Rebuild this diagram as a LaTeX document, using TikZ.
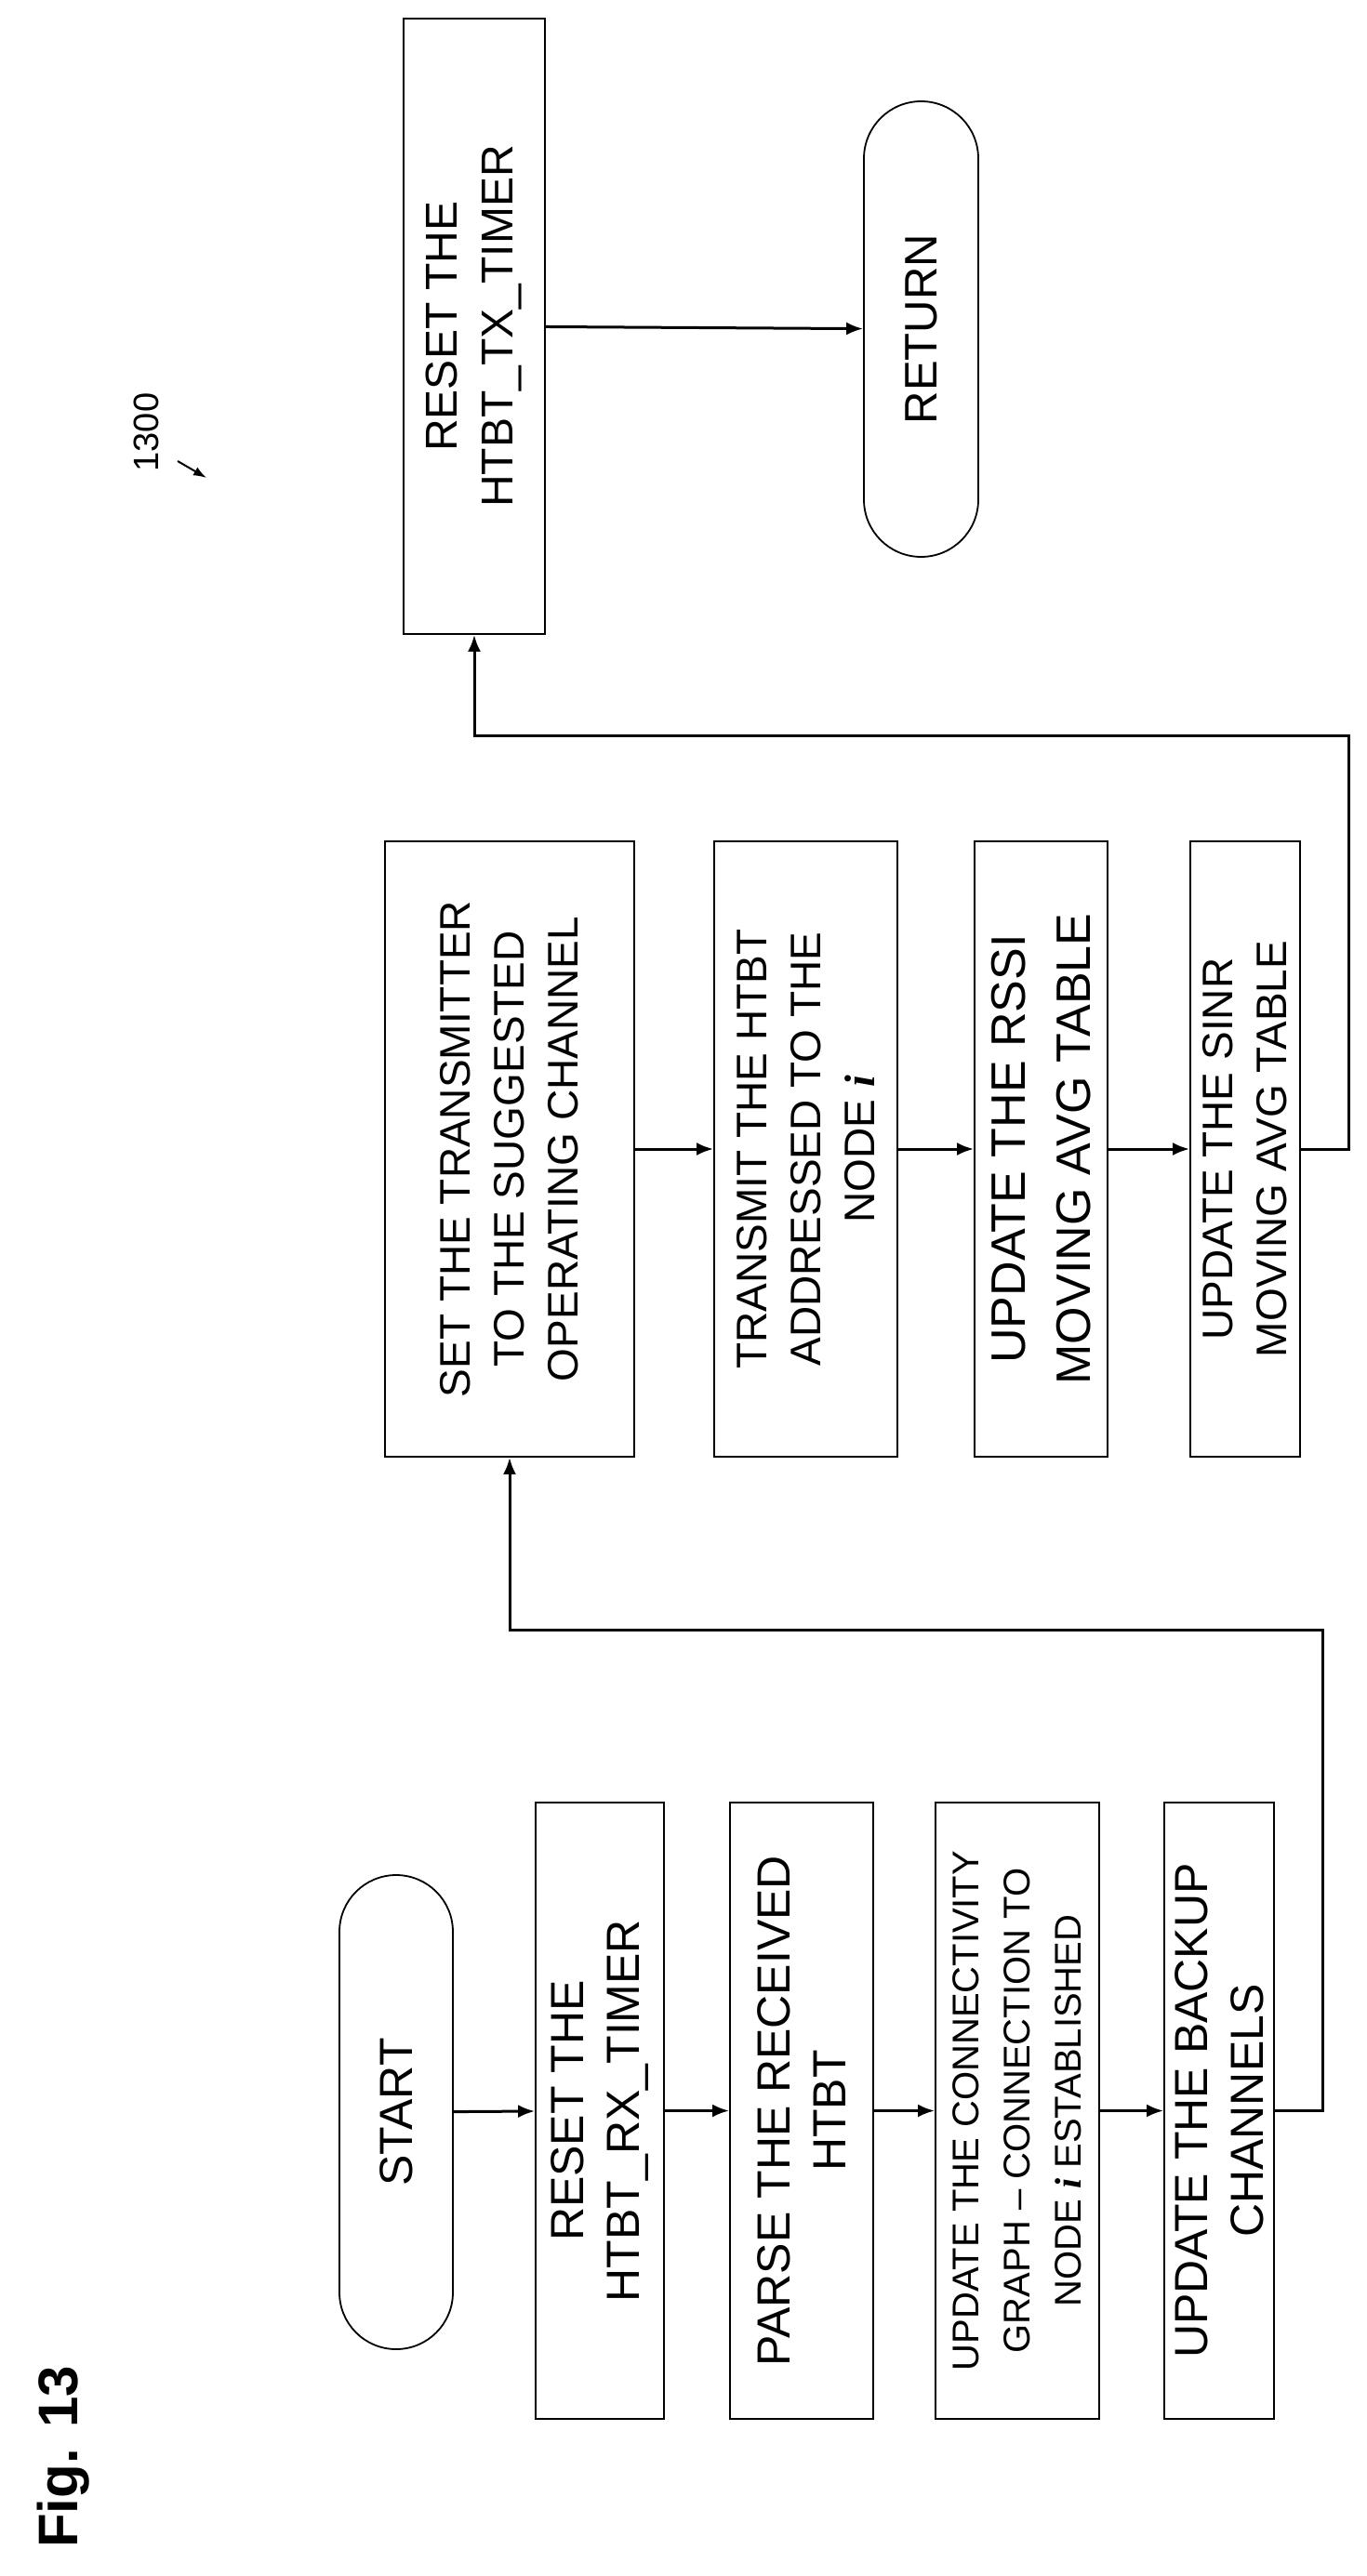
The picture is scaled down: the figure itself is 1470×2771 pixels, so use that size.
\documentclass[tikz,border=0pt]{standalone}
\usepackage{fontspec}
\setmainfont{Liberation Sans}
\newfontfamily\serifit{Liberation Serif}
\usetikzlibrary{shapes.misc,arrows.meta}
\newcommand{\ii}{{\serifit\bfseries\itshape i}}
\begin{document}
\begin{tikzpicture}[x=0.5pt,y=-0.5pt,
  box/.style={draw,rectangle,rotate=90,inner sep=0pt,align=center,line width=0.9pt},
  term/.style={draw,rounded rectangle,rotate=90,inner sep=0pt,align=center,line width=0.9pt},
  fa/.style={font=\fontsize{25pt}{30pt}\selectfont},
  fb/.style={font=\fontsize{23pt}{29pt}\selectfont},
  arr/.style={-{Latex[length=9pt,width=7pt]},line width=1.5pt}]
\useasboundingbox (0,0) rectangle (1470,2771);
% column 1
\node[term,fa,minimum width=255pt,minimum height=61pt] (start) at (426,2272) {START};
\node[box,fa,minimum width=331.5pt,minimum height=69pt] (rx) at (645,2270.5) {RESET THE\\HTBT\_RX\_TIMER};
\node[box,fa,minimum width=331.5pt,minimum height=77pt] (parse) at (862,2270.5) {PARSE THE RECEIVED\\HTBT};
\node[box,font=\fontsize{20pt}{27.5pt}\selectfont,minimum width=331.5pt,minimum height=88pt] (conn) at (1094,2270.5) {UPDATE THE CONNECTIVITY\\GRAPH -- CONNECTION TO\\NODE \ii{} ESTABLISHED};
\node[box,fa,minimum width=331.5pt,minimum height=59pt] (backup) at (1311,2270.5) {UPDATE THE BACKUP\\CHANNELS};
% column 2
\node[box,fb,minimum width=331pt,minimum height=134pt] (set) at (548,1236) {SET THE TRANSMITTER\\TO THE SUGGESTED\\OPERATING CHANNEL};
\node[box,fb,minimum width=331pt,minimum height=98.5pt] (tx) at (866.5,1236) {TRANSMIT THE HTBT\\ADDRESSED TO THE\\NODE \ii};
\node[box,font=\fontsize{26pt}{35pt}\selectfont,minimum width=331pt,minimum height=71.5pt] (rssi) at (1119.5,1236) {UPDATE THE RSSI\\MOVING AVG TABLE};
\node[box,fb,minimum width=331pt,minimum height=59pt] (sinr) at (1339,1236) {UPDATE THE SINR\\MOVING AVG TABLE};
% column 3
\node[box,font=\fontsize{24pt}{30pt}\selectfont,minimum width=331pt,minimum height=76pt] (rtx) at (510,351) {RESET THE\\HTBT\_TX\_TIMER};
\node[term,font=\fontsize{24.5pt}{30pt}\selectfont,minimum width=245pt,minimum height=61.5pt] (ret) at (990.5,354) {RETURN};
% labels
\node[rotate=90,font=\bfseries\fontsize{30pt}{36pt}\selectfont] (fig) at (68,2643) {Fig. 13};
\node[rotate=90,font=\fontsize{19pt}{23pt}\selectfont] (num) at (157,465) {1300};
\coordinate (na) at (191,496);
\coordinate (nb) at (222,514);
\draw[-{Latex[length=7pt,width=5pt]},line width=1pt] (na) -- (nb);
% connectors
\draw[arr] (start) -- (rx);
\draw[arr] (rx) -- (parse);
\draw[arr] (parse) -- (conn);
\draw[arr] (conn) -- (backup);
\coordinate (c1) at (1422,1753);
\draw[arr] (backup.south) -| (c1) -| (set.west);
\draw[arr] (set) -- (tx);
\draw[arr] (tx) -- (rssi);
\draw[arr] (rssi) -- (sinr);
\coordinate (c2) at (1450,791);
\draw[arr] (sinr.south) -| (c2) -| (rtx.west);
\draw[arr] (rtx) -- (ret);
\end{tikzpicture}
\end{document}
